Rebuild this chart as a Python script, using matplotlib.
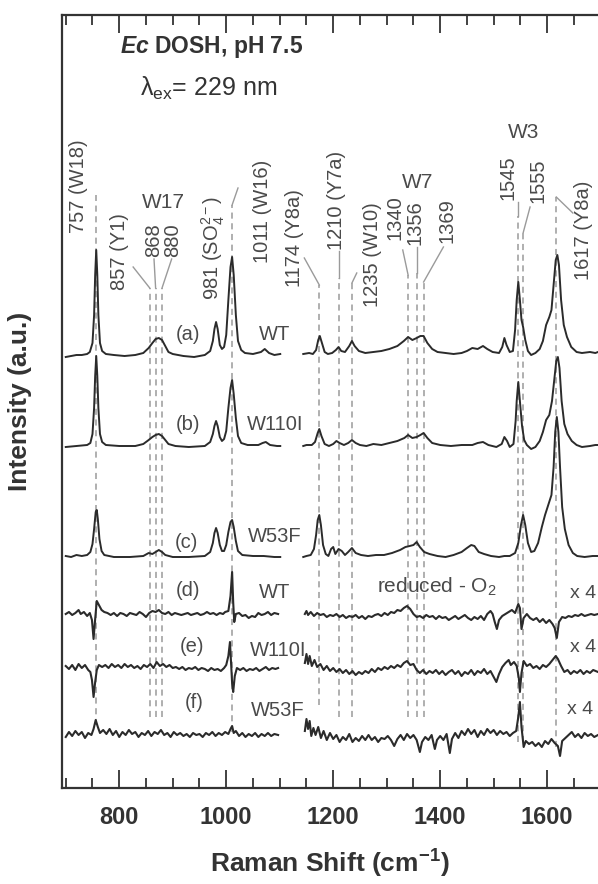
import numpy as np
import matplotlib
matplotlib.use("Agg")
import matplotlib.pyplot as plt
from matplotlib.ticker import MultipleLocator

plt.rcParams['font.family'] = ['Liberation Sans', 'DejaVu Sans']
plt.rcParams['mathtext.fontset'] = 'custom'
plt.rcParams['mathtext.rm'] = 'Liberation Sans'
plt.rcParams['mathtext.it'] = 'Liberation Sans:italic'
plt.rcParams['mathtext.bf'] = 'Liberation Sans:bold'
plt.rcParams['mathtext.bfit'] = 'Liberation Sans:italic:bold'

GAP = np.nan

# spectra: (Raman shift cm-1, intensity above own baseline)
a_pts = [(700, -2), (710, -1), (720, 0), (730, 0), (740, 1), (745, 3), (750, 12), (753, 40), (755, 80),
         (757, 105), (759, 80), (761, 40), (764, 12), (768, 4), (775, 1), (790, 0), (810, -1), (830, 0),
         (845, 2), (855, 7), (862, 12), (868, 16), (874, 17), (880, 15), (886, 9), (892, 3), (900, 1),
         (920, -1), (940, -2), (960, 0), (970, 4), (975, 14), (978, 26), (981, 33), (984, 26), (988, 10),
         (992, 6), (996, 8), (1000, 20), (1004, 55), (1008, 88), (1011, 98), (1014, 80), (1018, 40),
         (1022, 14), (1028, 5), (1035, 2), (1050, 1), (1065, 3), (1072, 6), (1080, 2), (1090, 0),
         (1101, 1), (1125, GAP),
         (1144, 1), (1155, 2), (1162, 1), (1168, 5), (1172, 15), (1175, 19), (1179, 12), (1184, 3),
         (1190, 1), (1198, 2), (1205, 5), (1210, 8), (1215, 4), (1222, 3), (1230, 9), (1235, 14),
         (1240, 9), (1248, 4), (1260, 2), (1275, 3), (1290, 4), (1305, 6), (1320, 9), (1332, 14),
         (1340, 18), (1348, 15), (1356, 17), (1363, 19), (1369, 19), (1376, 12), (1385, 6), (1395, 3),
         (1410, 2), (1425, 1), (1440, 2), (1450, 4), (1460, 7), (1470, 6), (1480, 9), (1488, 6),
         (1498, 3), (1510, 2), (1516, 8), (1520, 17), (1524, 10), (1530, 3), (1536, 4), (1540, 25),
         (1543, 55), (1546, 73), (1549, 55), (1552, 35), (1555, 28), (1559, 15), (1564, 4), (1570, 0),
         (1578, 2), (1586, 6), (1592, 14), (1598, 30), (1604, 38), (1608, 45), (1612, 70), (1616, 95),
         (1619, 100), (1622, 90), (1626, 55), (1631, 30), (1637, 18), (1645, 8), (1655, 3), (1665, 2),
         (1680, 3), (1690, 2), (1695, 3)]

b_pts = [(700, -1), (720, 0), (740, 1), (746, 3), (750, 12), (753, 38), (755, 70), (757, 90), (759, 70),
         (761, 38), (764, 12), (768, 4), (775, 1), (800, 0), (830, 0), (845, 2), (855, 6), (862, 9),
         (868, 11), (874, 12), (880, 10), (886, 6), (892, 2), (905, 0), (930, -1), (960, 0), (970, 4),
         (975, 12), (978, 20), (981, 25), (984, 20), (988, 9), (992, 5), (996, 7), (1000, 15), (1004, 38),
         (1008, 58), (1011, 66), (1014, 52), (1018, 28), (1022, 10), (1028, 3), (1040, 1), (1060, 1),
         (1068, 3), (1074, 4), (1082, 1), (1095, 0), (1101, 0), (1125, GAP),
         (1144, 0), (1150, 1), (1160, 1), (1166, 4), (1171, 13), (1174, 17), (1178, 10), (1184, 2),
         (1192, 0), (1200, 2), (1206, 5), (1212, 3), (1220, 1), (1228, 3), (1235, 6), (1242, 3),
         (1250, 1), (1262, 0), (1275, 2), (1290, 1), (1305, 3), (1320, 5), (1333, 8), (1340, 11),
         (1348, 8), (1356, 9), (1363, 11), (1369, 13), (1376, 8), (1385, 3), (1400, 1), (1420, 0),
         (1440, 1), (1460, 1), (1470, 3), (1480, 4), (1490, 1), (1505, -1), (1515, 2), (1520, 9),
         (1525, 5), (1530, -1), (1537, 2), (1541, 25), (1543, 45), (1546, 64), (1549, 45), (1553, 20),
         (1557, 6), (1562, 1), (1570, -3), (1578, -1), (1586, 5), (1592, 14), (1598, 26), (1604, 31),
         (1609, 45), (1613, 65), (1617, 85), (1620, 89), (1623, 78), (1627, 45), (1632, 22), (1638, 12),
         (1646, 5), (1655, 1), (1665, -1), (1680, 0), (1690, 1), (1695, 1)]

c_pts = [(700, 1), (710, 0), (720, 2), (730, 1), (740, 2), (746, 5), (750, 13), (753, 28), (756, 45),
         (758, 47), (760, 38), (763, 18), (767, 6), (772, 2), (790, 0), (820, 0), (845, 1), (855, 4),
         (862, 3), (868, 5), (874, 7), (880, 5), (886, 2), (900, 0), (930, 0), (960, 1), (970, 5),
         (975, 14), (978, 24), (981, 29), (984, 24), (988, 12), (992, 6), (996, 6), (1000, 12),
         (1004, 25), (1008, 35), (1011, 37), (1014, 30), (1018, 16), (1022, 6), (1030, 2), (1050, 1),
         (1070, 1), (1090, 0), (1101, 0), (1125, GAP),
         (1144, 0), (1150, 1), (1158, 2), (1164, 8), (1168, 22), (1171, 37), (1174, 42), (1177, 32),
         (1181, 12), (1186, 3), (1191, 1), (1196, 8), (1200, 10), (1204, 3), (1210, 8), (1216, 6),
         (1222, 2), (1228, 5), (1235, 9), (1242, 4), (1252, 2), (1265, 1), (1280, 2), (1295, 2),
         (1310, 4), (1325, 7), (1335, 10), (1343, 11), (1350, 12), (1356, 15), (1362, 10), (1370, 5),
         (1380, 3), (1395, 1), (1410, 0), (1425, 2), (1440, 5), (1450, 9), (1458, 12), (1464, 11),
         (1472, 5), (1482, 3), (1495, 1), (1510, 0), (1520, 1), (1530, 1), (1540, 4), (1546, 14),
         (1551, 32), (1555, 42), (1559, 32), (1564, 14), (1570, 5), (1576, 6), (1583, 14), (1590, 30),
         (1596, 42), (1602, 52), (1608, 62), (1612, 90), (1615, 125), (1618, 140), (1621, 125),
         (1624, 90), (1628, 50), (1633, 28), (1640, 12), (1648, 4), (1656, 1), (1670, 0), (1685, 1),
         (1695, 1)]

d_pts = [(700, 0), (706, 2), (712, -1), (718, 1), (724, 4), (728, 0), (734, 2), (740, -2), (745, 1),
         (749, -6), (752, -25), (755, -5), (758, 13), (762, 9), (767, 4), (772, 2), (778, 1), (784, -1),
         (790, 1), (796, -2), (802, 1), (808, 0), (814, -2), (820, 1), (826, 0), (832, -1), (838, 2),
         (844, 0), (850, -3), (856, 1), (862, 3), (868, 2), (874, 4), (880, 1), (886, 0), (892, 2),
         (898, -1), (904, 1), (910, 0), (916, -1), (922, 0), (928, 1), (934, -1), (940, 0), (946, 1),
         (952, -1), (958, 0), (964, 2), (970, 0), (976, 1), (982, -1), (988, 1), (994, 0), (998, 2),
         (1004, 3), (1008, 18), (1011, 42), (1013, 12), (1015, -8), (1018, 0), (1024, 1), (1030, -2),
         (1036, -1), (1042, -4), (1048, -2), (1054, -3), (1060, 1), (1066, -1), (1072, 0), (1078, 2),
         (1084, -1), (1090, 1), (1097, 0), (1125, GAP),
         (1147, 0), (1150, 3), (1153, -1), (1158, 2), (1164, -2), (1170, 1), (1176, -1), (1182, 0),
         (1188, -3), (1194, -1), (1200, -2), (1206, 0), (1212, -3), (1218, -1), (1224, -4), (1230, -2),
         (1236, -3), (1242, -1), (1248, -4), (1254, -2), (1260, -5), (1266, -2), (1272, -3), (1278, -1),
         (1284, 0), (1290, -2), (1296, 1), (1302, -1), (1308, 2), (1314, 1), (1320, 4), (1326, 3),
         (1332, 6), (1338, 8), (1344, 5), (1350, 0), (1356, -3), (1362, -2), (1368, -4), (1374, -1),
         (1380, -3), (1386, -2), (1392, -5), (1398, -2), (1404, -4), (1410, -3), (1416, -6), (1422, -4),
         (1428, -2), (1434, -5), (1440, -3), (1446, -1), (1452, -4), (1458, -6), (1464, -3), (1470, -5),
         (1476, -2), (1482, -6), (1488, 0), (1494, 3), (1498, 0), (1502, -8), (1506, -15), (1510, -6),
         (1516, -2), (1522, 0), (1528, 2), (1534, 4), (1540, 1), (1546, 10), (1549, 6), (1552, -15),
         (1556, -4), (1562, 0), (1568, -4), (1574, -6), (1580, -4), (1586, -8), (1592, -5), (1598, -9),
         (1604, -6), (1610, -10), (1614, -14), (1618, -24), (1622, -8), (1628, -3), (1634, -4),
         (1640, -2), (1646, -3), (1652, -1), (1658, -2), (1664, 0), (1670, -2), (1676, -1), (1682, 0),
         (1688, -1), (1695, 0)]

e_pts = [(700, 2), (706, -1), (712, 3), (718, -2), (724, 4), (730, 0), (736, 3), (742, -2), (746, -4),
         (749, -12), (752, -29), (755, -14), (758, -2), (762, 3), (768, 1), (774, 3), (780, 0), (786, 4),
         (792, 1), (798, 3), (804, 0), (810, 4), (816, 1), (822, 3), (828, 0), (834, 2), (840, -1),
         (846, 3), (852, 1), (858, 4), (864, 0), (870, 6), (876, 2), (882, 4), (888, 1), (894, 3),
         (900, 0), (906, 1), (912, -1), (918, 1), (924, -2), (930, 0), (936, -1), (942, 1), (948, -2),
         (954, 0), (960, -1), (966, -3), (972, 0), (978, -2), (984, -1), (990, -3), (996, 0), (1000, 3),
         (1004, 12), (1007, 26), (1009, 5), (1011, -15), (1013, -24), (1016, -8), (1020, 0), (1026, -2),
         (1032, 0), (1038, -3), (1044, -1), (1050, -2), (1056, 0), (1062, -3), (1068, -1), (1074, 1),
         (1080, -2), (1086, 0), (1092, -1), (1097, 0), (1125, GAP),
         (1147, 5), (1150, 14), (1153, 4), (1156, 12), (1160, 2), (1165, 8), (1170, 1), (1176, 4),
         (1182, -2), (1188, 2), (1194, -3), (1200, 0), (1206, -4), (1212, -1), (1218, -5), (1224, -2),
         (1230, -6), (1236, -3), (1242, -7), (1248, -4), (1254, -6), (1260, -3), (1266, -5), (1272, -1),
         (1278, -4), (1284, 0), (1290, -2), (1296, 1), (1302, -1), (1308, 2), (1314, 0), (1320, 3),
         (1326, 1), (1332, 5), (1338, 7), (1344, 3), (1350, 4), (1356, -2), (1362, -5), (1368, -2),
         (1374, -6), (1380, -3), (1386, -5), (1392, -2), (1398, -6), (1404, -3), (1410, -7), (1416, -4),
         (1422, -2), (1428, -6), (1434, -3), (1440, -8), (1446, -4), (1452, -6), (1458, -2), (1464, -7),
         (1470, -3), (1476, -5), (1482, -1), (1488, -6), (1494, -3), (1500, -9), (1505, -14), (1510, -6),
         (1516, 1), (1522, 5), (1528, 8), (1532, 3), (1538, 6), (1543, 2), (1547, -10), (1549, -24),
         (1552, -5), (1556, 7), (1562, 2), (1568, 4), (1574, 0), (1580, 2), (1586, -1), (1592, 3),
         (1598, 1), (1604, 4), (1610, 8), (1616, 12), (1620, 9), (1626, 2), (1632, -4), (1638, -2),
         (1644, -6), (1650, -3), (1656, -5), (1662, -2), (1668, -6), (1674, -3), (1680, -5), (1686, -2),
         (1695, -4)]

f_pts = [(700, -2), (706, 3), (712, -1), (718, 4), (724, 0), (730, 3), (736, -3), (742, 2), (748, 0),
         (752, 6), (756, 15), (760, 8), (764, 2), (770, 5), (776, 1), (782, 6), (788, 0), (794, 4),
         (800, -2), (806, 3), (812, 0), (818, 5), (824, 1), (830, 3), (836, -2), (842, 2), (848, 0),
         (854, 4), (860, -1), (866, 3), (872, 1), (878, 5), (884, 0), (890, 2), (896, -2), (902, 3),
         (908, 0), (914, 2), (920, -1), (926, 1), (932, -2), (938, 2), (944, 0), (950, 1), (956, -2),
         (962, 2), (968, 0), (974, 3), (980, -1), (986, 2), (992, 0), (998, 3), (1004, 1), (1008, 6),
         (1011, 9), (1014, 2), (1018, 4), (1024, -1), (1030, 2), (1036, -2), (1042, 1), (1048, -1),
         (1054, 2), (1060, -2), (1066, 1), (1072, -1), (1078, 2), (1084, -1), (1090, 1), (1097, 0),
         (1125, GAP),
         (1147, 4), (1150, 16), (1153, 6), (1156, 14), (1159, -1), (1163, 7), (1167, 0), (1172, 8),
         (1177, -3), (1182, 4), (1188, -5), (1194, 2), (1200, -4), (1206, 0), (1212, -7), (1218, -2),
         (1224, -5), (1230, 1), (1236, -7), (1242, -3), (1248, -6), (1254, -1), (1260, -5), (1266, 0),
         (1272, -5), (1278, -2), (1284, -7), (1290, -3), (1296, -4), (1302, -1), (1308, -5), (1314, -11),
         (1320, -4), (1326, 0), (1332, -5), (1338, 1), (1344, -3), (1350, 0), (1356, -5), (1362, -17),
         (1366, -7), (1372, -2), (1378, -5), (1384, 0), (1390, -14), (1394, -5), (1400, -1), (1406, -5),
         (1412, 1), (1418, -18), (1422, -4), (1428, 2), (1434, -3), (1440, 4), (1446, 0), (1452, 6),
         (1458, 1), (1464, 5), (1470, -2), (1476, 4), (1482, 0), (1488, 6), (1494, 2), (1500, 5),
         (1506, 0), (1512, 4), (1518, 1), (1524, 3), (1530, -1), (1536, 2), (1542, 4), (1546, 18),
         (1549, 33), (1552, 8), (1556, -12), (1560, -6), (1566, -9), (1572, -7), (1578, -11), (1584, -8),
         (1590, -12), (1596, -6), (1602, -9), (1608, -4), (1614, -8), (1620, -11), (1624, -21),
         (1628, -6), (1634, -3), (1640, 0), (1646, 3), (1652, -2), (1658, 1), (1664, -3), (1670, 2),
         (1676, -1), (1682, 1), (1688, -2), (1695, 0)]

traces = [a_pts, b_pts, c_pts, d_pts, e_pts, f_pts]
baselines = [433, 342, 231, 174, 120, 53]

# band positions marked with dashed guides
bands = [757, 857, 868, 880, 1011, 1174, 1210, 1235, 1340, 1356, 1369, 1545, 1555, 1617]
band_top = [593, 500, 500, 500, 583, 503, 510, 505, 513, 515, 506, 572, 555, 591]
band_bot = [63, 71, 71, 71, 56, 83, 71, 71, 71, 71, 71, 46, 46, 41]

# leader lines from the rotated labels to the guides
leaders = [((826, 521), (857, 500)), ((865, 529), (868, 500)), ((898, 529), (880, 500)),
           ((1022, 600), (1011, 583)), ((1146, 530), (1174, 503)), ((1210, 537), (1210, 510)),
           ((1244, 515), (1235, 505)), ((1330, 538), (1340, 513)), ((1356, 541), (1356, 515)),
           ((1406, 541), (1369, 506)), ((1545, 586), (1545, 572)), ((1568, 581), (1555, 555)),
           ((1648, 575), (1617, 591))]

band_labels = [('757 (W18)', 723, 555), ('857 (Y1)', 801, 498), ('868', 865, 531), ('880', 900, 531),
               ('981 (SO$_4^{2-}$)', 975, 488), ('1011 (W16)', 1068, 525), ('1174 (Y8a)', 1128, 501),
               ('1210 (Y7a)', 1207, 538), ('1235 (W10)', 1274, 481), ('1340', 1315, 548),
               ('1356', 1353, 543), ('1369', 1413, 545), ('1545', 1527, 588), ('1555', 1583, 585),
               ('1617 (Y8a)', 1667, 508)]

trace_tags = ['(a)', '(b)', '(c)', '(d)', '(e)', '(f)']
tag_pos = [(928, 453), (928, 363), (926, 246), (928, 198), (936, 141), (941, 85)]
samples = ['WT', 'W110I', 'W53F', 'WT', 'W110I', 'W53F']
sample_pos = [(1091, 453), (1091, 363), (1091, 251), (1091, 195), (1097, 138), (1097, 78)]
scale_pos = [(1667, 195), (1667, 141), (1661, 78)]

line_col = '#2b2b2b'
text_col = '#4a4a4a'
guide_col = '#9a9a9a'

fig = plt.figure(figsize=(5.98, 8.84), dpi=100)
ax = fig.add_axes([62 / 598, 96 / 884, 536 / 598, 773 / 884])

for nu, top, bot in zip(bands, band_top, band_bot):
    ax.plot([nu, nu], [bot, top], ls=(0, (4, 3)), color=guide_col, lw=1.1, zorder=1)
for (x0, y0), (x1, y1) in leaders:
    ax.plot([x0, x1], [y0, y1], color=guide_col, lw=1.0, zorder=1)

for i, (pts, base) in enumerate(zip(traces, baselines)):
    arr = np.array(pts, dtype=float)
    ax.plot(arr[:, 0], arr[:, 1] + base, color=line_col, lw=1.4 if i < 3 else 1.5, zorder=3,
            solid_joinstyle='round')

for txt, x, y in band_labels:
    ax.text(x, y, txt, rotation=90, ha='center', va='bottom', fontsize=14.5, color=text_col)
ax.text(882, 586, 'W17', ha='center', va='center', fontsize=15, color=text_col)
ax.text(1357, 606, 'W7', ha='center', va='center', fontsize=15, color=text_col)
ax.text(1555, 655, 'W3', ha='center', va='center', fontsize=15, color=text_col)

for tag, (x, y) in zip(trace_tags, tag_pos):
    ax.text(x, y, tag, ha='center', va='center', fontsize=14.5, color=text_col)
for s, (x, y) in zip(samples, sample_pos):
    ax.text(x, y, s, ha='center', va='center', fontsize=14.5, color=text_col)
for x, y in scale_pos:
    ax.text(x, y, 'x 4', ha='center', va='center', fontsize=14, color=text_col)
ax.text(1394, 201, 'reduced - O$_2$', ha='center', va='center', fontsize=15, color=text_col)

ax.text(801, 741, r'$\mathbfit{Ec}$ DOSH, pH 7.5', ha='left', va='center', fontsize=16.5,
        fontweight='bold', color='#333333')
ax.text(839, 700, r'λ$_\mathregular{ex}$= 229 nm', ha='left', va='center', fontsize=18,
        color='#333333')

ax.set_xlim(693, 1695)
ax.set_ylim(0, 773)
ax.set_yticks([])
ax.xaxis.set_major_locator(MultipleLocator(200))
ax.xaxis.set_minor_locator(MultipleLocator(50))
ax.tick_params(which='both', direction='in', top=True, bottom=True, width=1.3, colors='#333333')
ax.tick_params(which='major', length=13, labelsize=17, pad=13)
ax.tick_params(which='minor', length=7)
for lab in ax.get_xticklabels():
    lab.set_fontweight('bold')
for side in ['left', 'top', 'bottom']:
    ax.spines[side].set_linewidth(1.6)
    ax.spines[side].set_color('#333333')
ax.spines['right'].set_visible(False)

fig.text(0.552, 0.023, r'Raman Shift (cm$^\mathbf{-1}$)', ha='center', va='center',
         fontsize=19, fontweight='bold', color='#333333')
fig.text(0.034, 0.546, 'Intensity (a.u.)', ha='center', va='center', rotation=90,
         fontsize=19, fontweight='bold', color='#333333')

fig.savefig('out.png', dpi=100)
